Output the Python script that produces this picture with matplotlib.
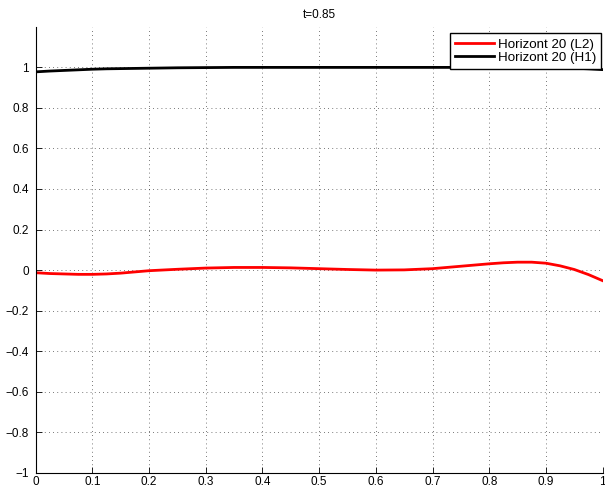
import numpy as np
import matplotlib.pyplot as plt

plt.rcParams['font.family'] = ['Liberation Sans', 'DejaVu Sans']

# error curves sampled along x
x = [0.0, 0.025, 0.05, 0.075, 0.1, 0.125, 0.15, 0.175, 0.2, 0.25, 0.3, 0.35,
     0.4, 0.45, 0.5, 0.55, 0.6, 0.65, 0.7, 0.75, 0.8, 0.825, 0.85, 0.875,
     0.9, 0.925, 0.95, 0.975, 1.0]
l2 = [-0.013, -0.017, -0.019, -0.021, -0.021, -0.019, -0.015, -0.009, -0.003,
      0.004, 0.010, 0.013, 0.013, 0.011, 0.007, 0.003, 0.000, 0.001, 0.007,
      0.019, 0.031, 0.036, 0.039, 0.039, 0.034, 0.021, 0.003, -0.022, -0.052]
h1 = [0.977, 0.981, 0.984, 0.987, 0.990, 0.992, 0.993, 0.994, 0.995, 0.997,
      0.998, 0.999, 0.999, 0.999, 0.999, 0.999, 0.999, 0.999, 0.999, 0.999,
      0.999, 0.999, 0.999, 0.999, 0.998, 0.997, 0.995, 0.992, 0.988]

fig = plt.figure(figsize=(6.05, 4.9), dpi=100)
ax = fig.add_axes([0.059, 0.0347, 0.937, 0.911])

ax.plot(x, l2, color='red', lw=2, label='Horizont 20 (L2)')
ax.plot(x, h1, color='black', lw=2, label='Horizont 20 (H1)')

ax.set_xlim(0, 1)
ax.set_ylim(-1, 1.2)
ax.set_xticks(np.arange(0, 1.01, 0.1))
ax.set_yticks(np.arange(-1, 1.01, 0.2))
ax.set_xticklabels(['0', '0.1', '0.2', '0.3', '0.4', '0.5', '0.6', '0.7', '0.8', '0.9', '1'])
ax.set_yticklabels(['\u22121', '\u22120.8', '\u22120.6', '\u22120.4', '\u22120.2', '0',
                    '0.2', '0.4', '0.6', '0.8', '1'])
ax.tick_params(direction='in', labelsize=8.5, length=4, width=0.6, top=False, right=False)
ax.tick_params(axis='y', pad=5)
ax.tick_params(axis='x', pad=2.5)
ax.grid(True, linestyle=(0, (1, 4)), color='black', lw=0.6, alpha=0.7)
for s in ['top', 'right']:
    ax.spines[s].set_visible(False)
for s in ['left', 'bottom']:
    ax.spines[s].set_linewidth(0.8)

ax.set_title('t=0.85', fontsize=8.5, pad=6)
leg = ax.legend(loc='upper right', bbox_to_anchor=(0.998, 0.985), borderaxespad=0,
                fontsize=9.6, fancybox=False, framealpha=1, edgecolor='black',
                handlelength=2.9, handletextpad=0.3, borderpad=0.4,
                labelspacing=0.05)
leg.get_frame().set_linewidth(1)

fig.savefig('out.png', dpi=100)
